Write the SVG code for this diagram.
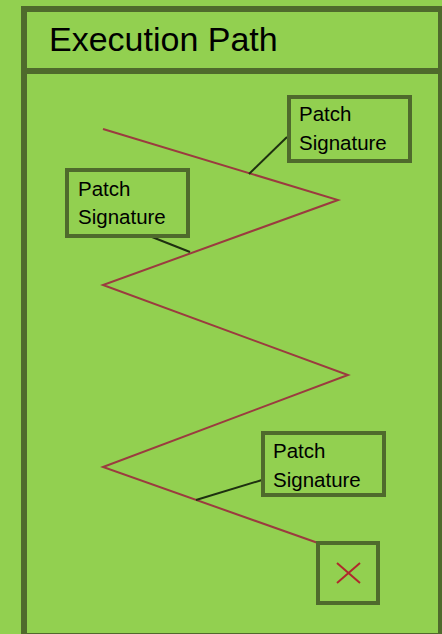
<svg xmlns="http://www.w3.org/2000/svg" width="442" height="634" viewBox="0 0 442 634">
  <style>
    .frame { fill: none; stroke: #4f6a2c; stroke-width: 6; }
    .box { fill: #92d050; stroke: #4f6a2c; stroke-width: 4; }
    .label { font-family: "Liberation Sans", Arial, sans-serif; font-size: 20.5px; fill: #000; }
    .title { font-family: "Liberation Sans", Arial, sans-serif; font-size: 34px; fill: #000; }
    .path { fill: none; stroke: #9b3b3f; stroke-width: 2; stroke-linejoin: miter; }
    .link { fill: none; stroke: #1e3010; stroke-width: 2; }
    .cross { stroke: #b0282c; stroke-width: 2; }
  </style>

  <!-- background -->
  <rect x="0" y="0" width="442" height="634" fill="#92d050"/>

  <!-- outer frame with header band -->
  <g id="frame">
    <rect class="frame" x="24" y="9" width="417" height="627"/>
    <line class="frame" x1="24" y1="71" x2="442" y2="71"/>
    <text class="title" x="49" y="51">Execution Path</text>
  </g>

  <!-- execution zigzag and annotation links -->
  <g id="connectors">
    <polyline class="path" points="103,129 338,200 103,285 348,375 103,467 318,543"/>
    <line class="link" x1="287" y1="137" x2="249" y2="174"/>
    <line class="link" x1="152" y1="237" x2="190" y2="252"/>
    <line class="link" x1="262" y1="480" x2="196" y2="500"/>
  </g>

  <g id="patch1">
    <rect class="box" x="289" y="97" width="121" height="64"/>
    <text class="label" x="299" y="121">Patch</text>
    <text class="label" x="299" y="150">Signature</text>
  </g>

  <g id="patch2">
    <rect class="box" x="67" y="170" width="121" height="66"/>
    <text class="label" x="78" y="196">Patch</text>
    <text class="label" x="78" y="224">Signature</text>
  </g>

  <g id="patch3">
    <rect class="box" x="263" y="433" width="121" height="62"/>
    <text class="label" x="273" y="458">Patch</text>
    <text class="label" x="273" y="487">Signature</text>
  </g>

  <g id="crash">
    <rect class="box" x="318" y="543" width="60" height="60"/>
    <line class="cross" x1="337" y1="563" x2="360" y2="583"/>
    <line class="cross" x1="360" y1="563" x2="337" y2="583"/>
  </g>
</svg>
